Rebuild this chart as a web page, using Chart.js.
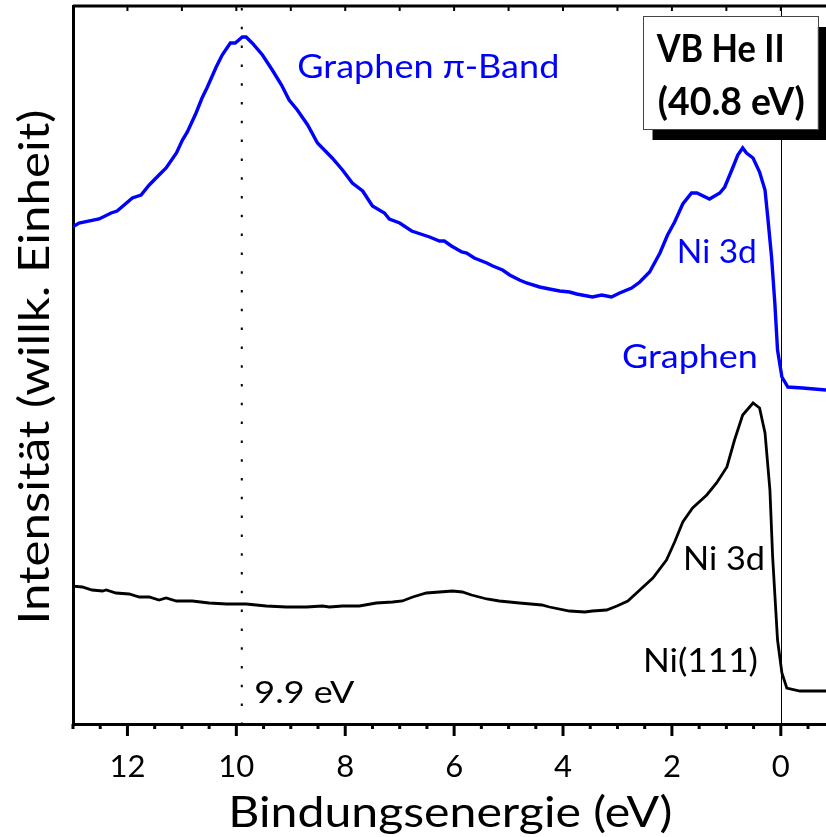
<!DOCTYPE html>
<html lang="de">
<head>
<meta charset="utf-8">
<title>VB He II – Graphen / Ni(111)</title>
<script src="https://cdn.jsdelivr.net/npm/chart.js@4.4.1/dist/chart.umd.min.js"></script>
<style>
  html, body { margin: 0; padding: 0; background: #fff; }
  #plot { display: block; }
</style>
</head>
<body>
<canvas id="plot" width="826" height="837"></canvas>
<script>
// Bindungsenergie (eV) und Intensität (willk. Einheit)
const grapheneEnergy = [13.01, 12.89, 12.52, 12.30, 12.19, 11.91, 11.75, 11.60, 11.42, 11.29,
  11.10, 10.99, 10.90, 10.74, 10.63, 10.54, 10.37, 10.26, 10.11, 10.02,
  9.89, 9.82, 9.71, 9.52, 9.34, 9.17, 9.03, 8.88, 8.69, 8.51,
  8.24, 8.05, 7.87, 7.68, 7.50, 7.28, 7.19, 7.00, 6.78, 6.45,
  6.27, 6.18, 6.05, 5.86, 5.77, 5.63, 5.40, 5.29, 5.11, 4.98,
  4.80, 4.67, 4.43, 4.25, 4.06, 3.88, 3.75, 3.46, 3.29, 3.11,
  2.96, 2.74, 2.59, 2.41, 2.22, 2.08, 1.95, 1.80, 1.64, 1.54,
  1.31, 1.12, 1.03, 0.90, 0.79, 0.70, 0.63, 0.51, 0.39, 0.29,
  0.24, 0.17, 0.11, 0.06, -0.02, -0.13, -0.40, -0.83];
const grapheneIntensity = [497, 501, 505, 511, 513, 526, 529, 539, 549, 556,
  571, 584, 592, 611, 626, 636, 657, 669, 681, 681,
  687, 687, 681, 669, 654, 639, 624, 614, 599, 581,
  566, 554, 541, 533, 518, 511, 505, 501, 493, 487,
  483, 483, 478, 472, 471, 466, 461, 458, 454, 449,
  444, 441, 437, 435, 433, 432, 430, 427, 429, 427,
  431, 436, 442, 452, 471, 489, 502, 520, 531, 531,
  525, 531, 537, 554, 569, 576, 571, 566, 552, 534,
  507, 467, 421, 374, 347, 337, 336, 334];

const nickelEnergy = [13.01, 12.83, 12.65, 12.46, 12.39, 12.21, 11.97, 11.78, 11.60, 11.42,
  11.29, 11.10, 10.81, 10.50, 10.18, 9.82, 9.45, 9.08, 8.71, 8.42,
  8.29, 8.05, 7.74, 7.43, 7.13, 6.95, 6.76, 6.51, 6.27, 6.03,
  5.85, 5.68, 5.40, 5.17, 4.80, 4.39, 4.25, 3.88, 3.60, 3.46,
  3.20, 3.01, 2.81, 2.59, 2.35, 2.10, 1.95, 1.80, 1.62, 1.36,
  1.18, 0.99, 0.85, 0.70, 0.51, 0.39, 0.29, 0.20, 0.15, 0.06,
  -0.02, -0.11, -0.35, -0.83];
const nickelIntensity = [138, 137, 134, 133, 134, 131, 130, 127, 127, 124,
  126, 123, 123, 121, 120, 120, 118, 117, 117, 118,
  117, 118, 118, 121, 122, 123, 127, 131, 132, 133,
  132, 129, 125, 123, 121, 119, 117, 113, 112, 113,
  114, 118, 123, 134, 146, 164, 182, 202, 216, 229,
  241, 257, 284, 309, 321, 316, 291, 234, 167, 84,
  51, 36, 33, 33];

// beschriftete Ticks der Energieachse
const xTickValues = [12, 10, 8, 6, 4, 2, 0];
const piBandEnergy = 9.9;

const BLUE = "#0000ff";
const FONT = "Lato";

// Paare (x, y) fuer Chart.js bauen
const toPoints = (xs, ys) => xs.map((v, i) => ({ x: v, y: ys[i] }));

// Text mit fester Breite zeichnen (horizontal gestaucht/gestreckt)
function fitText(ctx, text, x, y, width, align, color, font, rot = 0) {
  ctx.save();
  ctx.font = font;
  ctx.fillStyle = color;
  ctx.textBaseline = "alphabetic";
  ctx.textAlign = align;
  const w = ctx.measureText(text).width;
  ctx.translate(x, y);
  ctx.rotate(rot);
  ctx.scale(width / w, 1);
  ctx.fillText(text, 0, 0);
  ctx.restore();
}

const decorPlugin = {
  id: "decor",
  beforeDatasetsDraw(chart) {
    const { ctx, chartArea: a, scales: { x } } = chart;
    ctx.save();
    // gepunktete Linie beim pi-Band Maximum
    const xd = x.getPixelForValue(piBandEnergy);
    ctx.strokeStyle = "#000";
    ctx.lineWidth = 2;
    ctx.setLineDash([2.5, 16.3]);
    ctx.beginPath();
    ctx.moveTo(xd, a.top + 2);
    ctx.lineTo(xd, a.bottom);
    ctx.stroke();
    ctx.setLineDash([]);
    // Fermikante (0 eV)
    const x0 = Math.round(x.getPixelForValue(0)) + 0.5;
    ctx.lineWidth = 1;
    ctx.beginPath();
    ctx.moveTo(x0, a.top);
    ctx.lineTo(x0, a.bottom);
    ctx.stroke();
    ctx.restore();
  },
  afterDraw(chart) {
    const { ctx, chartArea: a, scales: { x, y } } = chart;
    ctx.save();
    ctx.strokeStyle = "#000";

    // obere Rahmenlinie mit kleinen Ticks
    ctx.lineWidth = 3;
    ctx.beginPath();
    ctx.moveTo(a.left, a.top);
    ctx.lineTo(a.right, a.top);
    ctx.stroke();
    ctx.lineWidth = 2;
    for (let e = 0; e <= 13; e++) {
      const px = x.getPixelForValue(e);
      ctx.beginPath();
      ctx.moveTo(px, a.top);
      ctx.lineTo(px, a.top + 5);
      ctx.stroke();
    }

    // untere Ticks: gross alle 2 eV, klein alle 0.5 eV
    ctx.lineWidth = 3;
    for (let k = -1; k <= 26; k++) {
      const e = k / 2;
      const px = x.getPixelForValue(e);
      const len = (k % 4 === 0) ? 12 : 5;
      ctx.beginPath();
      ctx.moveTo(px, a.bottom);
      ctx.lineTo(px, a.bottom + len);
      ctx.stroke();
    }

    // Achsentitel
    const fTitle = `42px ${FONT}`;
    fitText(ctx, "Bindungsenergie (eV)", x.getPixelForValue(6.07), 827, 444, "center", "#000", fTitle);
    fitText(ctx, "Intensität (willk. Einheit)", 49, y.getPixelForValue(357), 515, "center", "#000", fTitle, -Math.PI / 2);

    // Beschriftungen an den Kurven
    const px = (e) => x.getPixelForValue(e);
    const py = (v) => y.getPixelForValue(v);
    const f33 = `33px ${FONT}`;
    fitText(ctx, "Graphen \u03c0-Band", px(8.88), py(646), 262, "left", BLUE, f33);
    fitText(ctx, "Ni 3d", px(0.44), py(461), 80, "right", BLUE, f33);
    fitText(ctx, "Graphen", px(0.42), py(356), 136, "right", BLUE, f33);
    fitText(ctx, "Ni 3d", px(0.29), py(154), 82, "right", "#000", f33);
    fitText(ctx, "Ni(111)", px(0.42), py(52), 115, "right", "#000", f33);
    fitText(ctx, "9.9 eV", px(9.67), py(21), 100, "left", "#000", `30px ${FONT}`);

    // Kasten "VB He II (40.8 eV)" mit Schatten
    const bx = px(2.54), by = py(708), bw = px(-0.68) - bx, bh = py(595) - by;
    ctx.fillStyle = "#000";
    ctx.fillRect(bx + 10, by + 11, bw, bh);
    ctx.fillStyle = "#fff";
    ctx.fillRect(bx, by, bw, bh);
    ctx.strokeStyle = "#444";
    ctx.lineWidth = 1;
    ctx.strokeRect(Math.round(bx) + 0.5, Math.round(by) + 0.5, Math.round(bw), Math.round(bh));
    const fb = `bold 38px ${FONT}`;
    fitText(ctx, "VB He II", px(2.28), py(662), 128, "left", "#000", fb);
    fitText(ctx, "(40.8 eV)", px(2.26), py(609), 147, "left", "#000", fb);

    ctx.restore();
  }
};

new Chart(document.getElementById("plot"), {
  type: "line",
  data: {
    datasets: [
      {
        label: "Graphen/Ni(111)",
        data: toPoints(grapheneEnergy, grapheneIntensity),
        borderColor: BLUE,
        borderWidth: 3.4,
        pointRadius: 0,
        tension: 0,
        fill: false,
      },
      {
        label: "Ni(111)",
        data: toPoints(nickelEnergy, nickelIntensity),
        borderColor: "#000",
        borderWidth: 2.8,
        pointRadius: 0,
        tension: 0,
        fill: false,
      },
    ],
  },
  options: {
    responsive: false,
    animation: false,
    layout: { padding: { top: 6, right: 0, bottom: 0, left: 0 } },
    plugins: {
      legend: { display: false },
      tooltip: { enabled: false },
    },
    scales: {
      x: {
        type: "linear",
        reverse: true,
        min: -0.83,
        max: 13,
        afterFit: (s) => { s.height = 113; },
        afterBuildTicks: (s) => { s.ticks = xTickValues.map((v) => ({ value: v })); },
        grid: { display: false, drawTicks: false },
        border: { display: true, color: "#000", width: 3 },
        ticks: {
          color: "#000",
          font: { family: FONT, size: 31 },
          padding: 24,
          autoSkip: false,
          maxRotation: 0,
          callback: (v) => String(v),
        },
        title: { display: false },
      },
      y: {
        min: 0,
        max: 718,
        afterFit: (s) => { s.width = 73; },
        grid: { display: false, drawTicks: false },
        border: { display: true, color: "#000", width: 3 },
        ticks: { display: false },
        title: { display: false },
      },
    },
  },
  plugins: [decorPlugin],
});
</script>
</body>
</html>
